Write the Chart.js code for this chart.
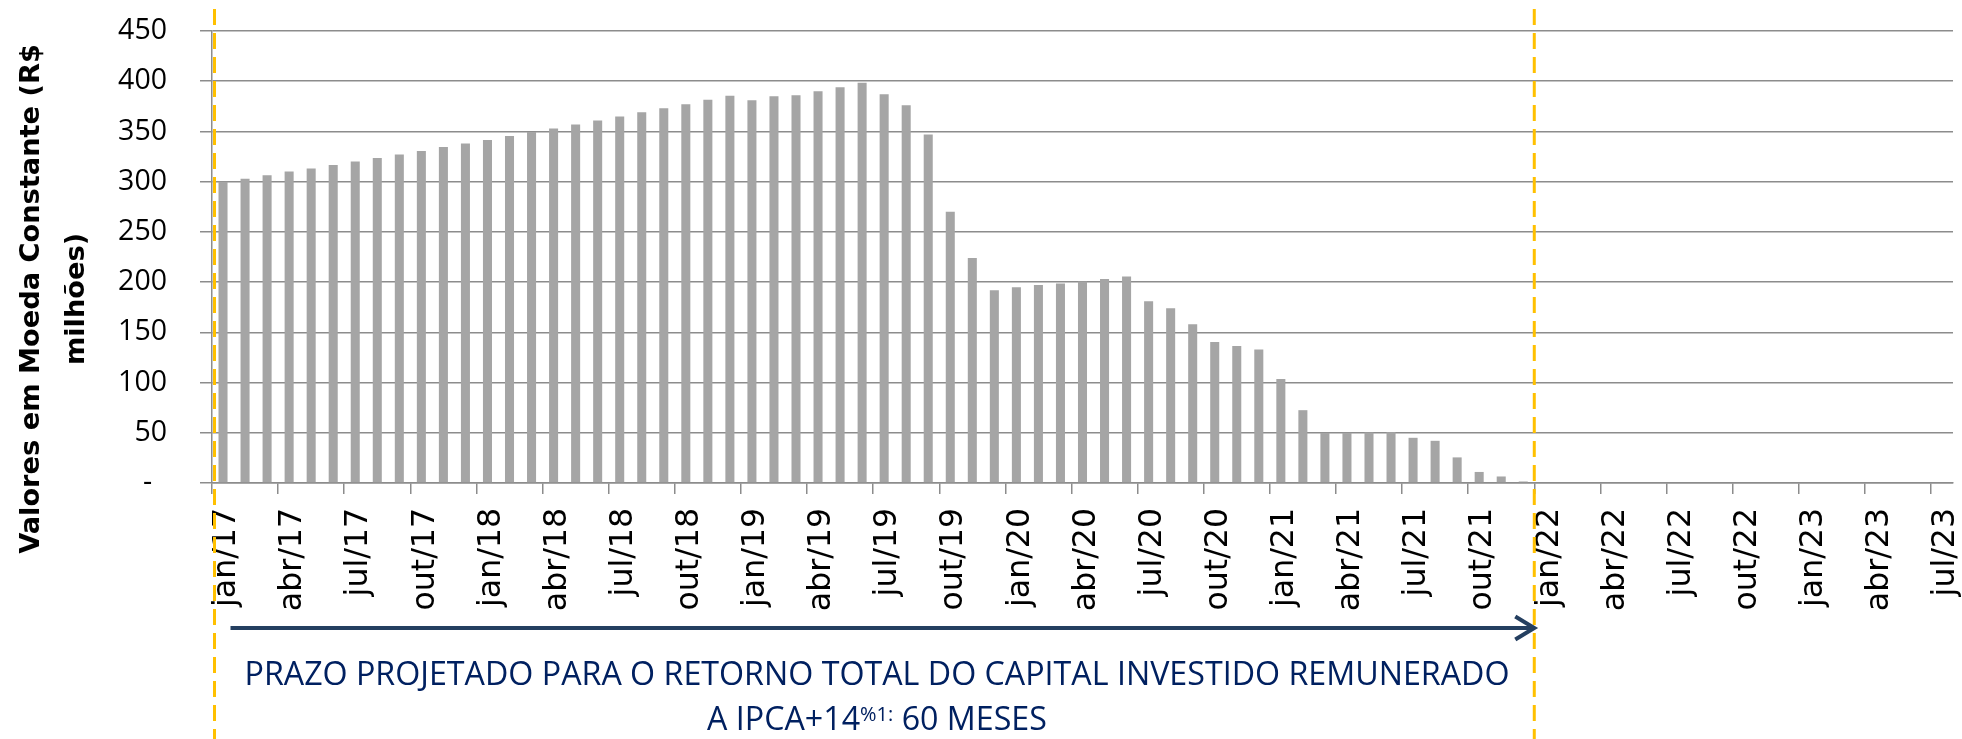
<!DOCTYPE html>
<html lang="pt-BR">
<head>
<meta charset="utf-8">
<title>Prazo projetado para o retorno do capital investido</title>
<script src="https://cdn.jsdelivr.net/npm/chart.js@4.4.1/dist/chart.umd.min.js"></script>
<style>
  html, body { margin: 0; padding: 0; background: #fff; }
  #wrap { width: 1962px; height: 739px; }
</style>
</head>
<body>
<div id="wrap"><canvas id="grafico" width="1962" height="739"></canvas></div>
<script>
// eixo de datas: jan/17 até jul/23, rótulo a cada 3 meses
const meses = ['jan', 'fev', 'mar', 'abr', 'mai', 'jun', 'jul', 'ago', 'set', 'out', 'nov', 'dez'];
const anos = ['17', '18', '19', '20', '21', '22', '23'];
const mesesNoUltimoAno = 7; // jan/23 .. jul/23

// saldo em moeda constante (R$ milhões), jan/17 a dez/21
const saldo2017 = [300, 303, 306.5, 310, 313, 316.5, 320, 323.5, 327, 330.5, 334.5, 338];
const saldo2018 = [341.5, 345.5, 349.5, 353, 357, 361, 365, 369, 373, 377, 381.5, 385.5];
const saldo2019 = [381, 385, 386, 390, 394, 398.5, 387, 376, 347, 270, 224, 192];
const saldo2020 = [195, 197, 198.5, 200.5, 203, 205.5, 181, 174, 158, 140.5, 136.5, 133];
const saldo2021 = [103.5, 72.5, 50, 50, 50.3, 50.6, 45, 42, 25.5, 11, 6.5, 1.5];

const yMin = 0, yMax = 450, yPasso = 50;
const prazoMeses = 60; // jan/17 -> jan/22

const textoLinha1 = 'PRAZO PROJETADO PARA O RETORNO TOTAL DO CAPITAL INVESTIDO REMUNERADO';
const textoLinha2 = ['A IPCA+14', '%1:', ' 60 MESES'];
const tituloY = ['Valores em Moeda Constante (R$', 'milhões)'];

const corBarra = '#a5a5a5';
const corGrade = '#8c8c8c';
const corAmarelo = '#ffc000';
const corSeta = '#243f60';
const corTexto = '#002060';

const rotulos = [];
anos.forEach((a, k) => {
  const n = k === anos.length - 1 ? mesesNoUltimoAno : 12;
  for (let m = 0; m < n; m++) rotulos.push(meses[m] + '/' + a);
});
const saldo = [...saldo2017, ...saldo2018, ...saldo2019, ...saldo2020, ...saldo2021];

// tamanho de fonte para que o texto ocupe a largura desejada
const medidor = document.createElement('canvas').getContext('2d');
function tamanhoPara(texto, peso, familia, largura) {
  medidor.font = peso + ' 100px ' + familia;
  return 100 * largura / medidor.measureText(texto).width;
}
const tamRotuloX = tamanhoPara('jan/19', 'normal', '"DejaVu Sans"', 99);
const tamTituloY = tamanhoPara(tituloY[0], 'bold', '"DejaVu Sans"', 510);

// desenhos por cima: linhas tracejadas, seta, texto e título do eixo Y
const anotacoes = {
  id: 'anotacoes',
  afterDraw(chart) {
    const { ctx, scales: { x } } = chart;
    const limite = i => i === 0 ? x.left : (x.getPixelForValue(i - 1) + x.getPixelForValue(i)) / 2;
    const xIni = limite(0) + 2.5;
    const xFim = limite(prazoMeses);

    ctx.save();
    // linhas tracejadas amarelas
    ctx.strokeStyle = corAmarelo;
    ctx.lineWidth = 3;
    ctx.setLineDash([16, 8]);
    [xIni, xFim].forEach(px => {
      ctx.beginPath();
      ctx.moveTo(px, 9);
      ctx.lineTo(px, 739);
      ctx.stroke();
    });
    ctx.setLineDash([]);

    // seta
    const ySeta = 628;
    ctx.strokeStyle = corSeta;
    ctx.lineWidth = 4;
    ctx.lineCap = 'butt';
    ctx.beginPath();
    ctx.moveTo(xIni + 16, ySeta);
    ctx.lineTo(xFim, ySeta);
    ctx.stroke();
    ctx.lineJoin = 'miter';
    ctx.beginPath();
    ctx.moveTo(xFim - 19, ySeta - 11.5);
    ctx.lineTo(xFim, ySeta);
    ctx.lineTo(xFim - 19, ySeta + 11.5);
    ctx.stroke();

    // texto explicativo
    const centro = 877;
    const fonte = 'px "Open Sans", sans-serif';
    const tam = 32.5;
    ctx.fillStyle = corTexto;
    ctx.textBaseline = 'alphabetic';
    ctx.textAlign = 'left';
    ctx.font = tam + fonte;
    const sx = 1265 / ctx.measureText(textoLinha1).width;
    ctx.save();
    ctx.translate(centro, 685);
    ctx.scale(sx, 1);
    ctx.textAlign = 'center';
    ctx.fillText(textoLinha1, 0, 0);
    ctx.restore();

    const tamSup = tam * 0.62;
    ctx.font = tam + fonte;
    const w0 = ctx.measureText(textoLinha2[0]).width;
    const w2 = ctx.measureText(textoLinha2[2]).width;
    ctx.font = tamSup + fonte;
    const w1 = ctx.measureText(textoLinha2[1]).width;
    ctx.save();
    ctx.translate(centro, 730);
    ctx.scale(sx, 1);
    let px = -(w0 + w1 + w2) / 2;
    ctx.font = tam + fonte;
    ctx.fillText(textoLinha2[0], px, 0);
    px += w0;
    ctx.font = tamSup + fonte;
    ctx.fillText(textoLinha2[1], px, -9);
    px += w1;
    ctx.font = tam + fonte;
    ctx.fillText(textoLinha2[2], px, 0);
    ctx.restore();

    // título do eixo Y (duas linhas, rotacionado)
    ctx.fillStyle = '#000';
    ctx.font = 'bold ' + tamTituloY + 'px "DejaVu Sans", sans-serif';
    ctx.textAlign = 'center';
    ctx.textBaseline = 'middle';
    [[32, tituloY[0]], [77, tituloY[1]]].forEach(([tx, t]) => {
      ctx.save();
      ctx.translate(tx, 299);
      ctx.rotate(-Math.PI / 2);
      ctx.fillText(t, 0, 0);
      ctx.restore();
    });
    ctx.restore();
  }
};

new Chart(document.getElementById('grafico'), {
  type: 'bar',
  data: {
    labels: rotulos,
    datasets: [{ data: saldo, backgroundColor: corBarra, borderWidth: 0, barPercentage: 0.41, categoryPercentage: 1 }]
  },
  options: {
    responsive: false,
    animation: false,
    devicePixelRatio: 1,
    layout: { padding: { left: 0, top: 31, right: 9, bottom: 0 } },
    plugins: { legend: { display: false }, tooltip: { enabled: false } },
    scales: {
      x: {
        grid: {
          drawOnChartArea: false, drawTicks: true, tickLength: 11, offset: true, lineWidth: 1.5,
          color: c => c.index % 3 === 0 ? corGrade : 'rgba(0,0,0,0)'
        },
        border: { display: true, color: corGrade, width: 1.5 },
        ticks: {
          autoSkip: false, minRotation: 90, maxRotation: 90, padding: 14, labelOffset: 4, color: '#000',
          font: { family: '"DejaVu Sans", sans-serif', size: tamRotuloX },
          callback: function (v, i) { return i % 3 === 0 ? this.getLabelForValue(v) : ''; }
        },
        afterFit: s => { s.height = 256; s.paddingLeft = 0; s.paddingRight = 0; }
      },
      y: {
        min: yMin, max: yMax,
        grid: { color: corGrade, lineWidth: 1.5, tickLength: 12 },
        border: { display: true, color: corGrade, width: 1.5 },
        ticks: {
          stepSize: yPasso, padding: 33, color: '#000',
          font: { family: '"Open Sans", sans-serif', size: 28.5 },
          callback: v => v === 0 ? '-  ' : String(v)
        },
        afterFit: s => { s.width = 212; s.paddingTop = 0; s.paddingBottom = 0; }
      }
    }
  },
  plugins: [anotacoes]
});
</script>
</body>
</html>
